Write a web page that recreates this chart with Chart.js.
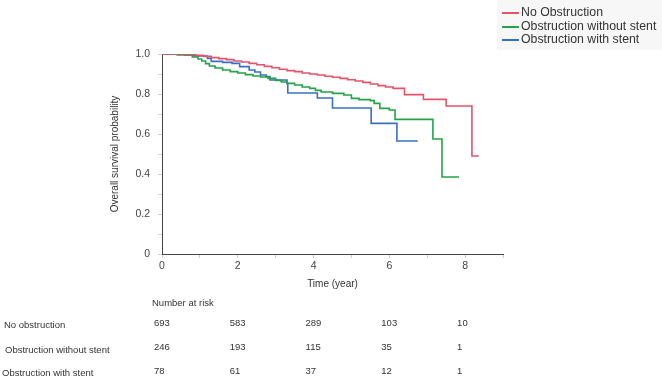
<!DOCTYPE html>
<html>
<head>
<meta charset="utf-8">
<script src="https://cdn.jsdelivr.net/npm/chart.js@4/dist/chart.umd.min.js"></script>
<style>
html,body{margin:0;padding:0;background:#fff;}
#wrap{width:662px;height:383px;position:relative;}
</style>
</head>
<body>
<div id="wrap"><canvas id="c" width="662" height="383"></canvas></div>
<script>
// ---- data ----
const seriesNames = ["No Obstruction", "Obstruction without stent", "Obstruction with stent"];
const seriesColors = ["#e5546a", "#24a448", "#3b6fc2"];

const noObsTime = [0, 0.6, 0.9, 1.1, 1.3, 1.5, 1.7, 1.9, 2.1, 2.3, 2.5, 2.7, 2.9, 3.1, 3.3, 3.5, 3.7, 3.9, 4.1, 4.3, 4.5, 4.7, 4.9, 5.1, 5.3, 5.5, 5.7, 5.9, 6.1, 6.4, 6.9, 7.5, 8.18, 8.36];
const noObsSurv = [1.0, 0.998, 0.993, 0.988, 0.982, 0.977, 0.972, 0.965, 0.96, 0.953, 0.946, 0.938, 0.931, 0.924, 0.917, 0.912, 0.905, 0.9, 0.895, 0.889, 0.884, 0.878, 0.871, 0.865, 0.858, 0.85, 0.842, 0.835, 0.828, 0.797, 0.773, 0.74, 0.49, 0.49];

const obsNoStentTime = [0, 0.4, 0.8, 0.95, 1.05, 1.15, 1.25, 1.4, 1.6, 1.8, 2.0, 2.2, 2.4, 2.6, 2.8, 3.0, 3.15, 3.3, 3.5, 3.7, 3.9, 4.05, 4.2, 4.5, 4.8, 5.0, 5.2, 5.5, 5.6, 5.75, 6.0, 6.15, 7.15, 7.39, 7.84];
const obsNoStentSurv = [1.0, 0.995, 0.985, 0.975, 0.965, 0.952, 0.94, 0.93, 0.92, 0.912, 0.905, 0.897, 0.89, 0.885, 0.878, 0.868, 0.86, 0.853, 0.845, 0.835, 0.828, 0.818, 0.81, 0.803, 0.795, 0.778, 0.772, 0.767, 0.753, 0.728, 0.72, 0.673, 0.575, 0.385, 0.385];

const obsStentTime = [0, 0.6, 0.85, 1.2, 1.3, 1.6, 1.85, 2.05, 2.3, 2.45, 2.6, 2.75, 2.85, 3.3, 3.32, 4.1, 4.5, 5.52, 6.2, 6.75];
const obsStentSurv = [1.0, 0.995, 0.99, 0.978, 0.963, 0.958, 0.953, 0.937, 0.92, 0.91, 0.895, 0.887, 0.87, 0.853, 0.805, 0.78, 0.73, 0.653, 0.565, 0.565];

const yTickLabels = ["0", "0.2", "0.4", "0.6", "0.8", "1.0"];
const xTickLabels = ["0", "2", "4", "6", "8"];

const riskTimes = [0, 2, 4, 6, 8];
const riskRowLabels = ["No obstruction", "Obstruction without stent", "Obstruction with stent"];
const riskNoObs = [693, 583, 289, 103, 10];
const riskObsNoStent = [246, 193, 115, 35, 1];
const riskObsStent = [78, 61, 37, 12, 1];

// ---- build ----
function pts(t, s){ return t.map((v,i)=>({x:v, y:s[i]})); }
const FONT = 'Arial, "Liberation Sans", sans-serif';
Chart.defaults.font.family = FONT;

const extras = {
  id: 'extras',
  afterDraw(chart){
    const ctx = chart.ctx;
    const xs = chart.scales.x;
    ctx.save();
    // legend
    ctx.fillStyle = '#f7f7f7';
    ctx.fillRect(497, 0, 165, 50);
    ctx.font = '12.3px ' + FONT;
    ctx.textBaseline = 'middle';
    ctx.textAlign = 'left';
    const rows = [13, 27, 40];
    seriesNames.forEach((n,i)=>{
      ctx.strokeStyle = seriesColors[i];
      ctx.lineWidth = 2;
      ctx.beginPath(); ctx.moveTo(502, rows[i]); ctx.lineTo(519, rows[i]); ctx.stroke();
      ctx.fillStyle = '#333';
      ctx.fillText(n, 521, rows[i]);
    });
    // number at risk table
    ctx.font = '9.5px ' + FONT;
    ctx.fillStyle = '#333';
    ctx.fillText('Number at risk', 152, 303);
    const labelX = [4, 5, 2];
    const labelY = [325, 350, 373];
    const valY = [323, 347, 371];
    const vals = [riskNoObs, riskObsNoStent, riskObsStent];
    riskRowLabels.forEach((l,i)=>{
      ctx.fillText(l, labelX[i], labelY[i]);
      riskTimes.forEach((t,j)=>{
        ctx.fillText(String(vals[i][j]), xs.getPixelForValue(t) - 8, valY[i]);
      });
    });
    ctx.restore();
  }
};

new Chart(document.getElementById('c'), {
  type: 'line',
  data: {
    datasets: [
      {label: seriesNames[0], data: pts(noObsTime, noObsSurv), borderColor: seriesColors[0]},
      {label: seriesNames[1], data: pts(obsNoStentTime, obsNoStentSurv), borderColor: seriesColors[1]},
      {label: seriesNames[2], data: pts(obsStentTime, obsStentSurv), borderColor: seriesColors[2]}
    ].map(d => Object.assign(d, {stepped: 'before', pointRadius: 0, borderWidth: 1.6, fill: false, tension: 0}))
  },
  options: {
    responsive: false,
    animation: false,
    layout: {padding: {left: 105, right: 159, top: 54, bottom: 89}},
    plugins: {legend: {display: false}, tooltip: {enabled: false}},
    scales: {
      x: {
        type: 'linear', min: 0, max: 9,
        afterFit: s => { s.height = 40; },
        border: {display: true, color: '#444', width: 1},
        grid: {display: true, drawOnChartArea: false, drawTicks: true, tickLength: 4, color: '#d0d0d0'},
        ticks: {stepSize: 1, autoSkip: false, maxRotation: 0, padding: 2, color: '#444', font: {size: 10.5},
          callback: (v) => { const k = xTickLabels.indexOf(String(v)); return k >= 0 ? xTickLabels[k] : ''; }},
        title: {display: true, text: 'Time (year)', color: '#333', font: {size: 10}, padding: {top: 4, bottom: 4}}
      },
      y: {
        type: 'linear', min: 0, max: 1,
        afterFit: s => { s.width = 57; },
        border: {display: true, color: '#444', width: 1},
        grid: {display: true, drawOnChartArea: false, drawTicks: true, tickLength: 4, color: '#d0d0d0'},
        ticks: {stepSize: 0.1, autoSkip: false, padding: 8, color: '#444', font: {size: 10.5},
          callback: (v, i) => (i % 2 === 0) ? yTickLabels[i / 2] : ''},
        title: {display: true, text: 'Overall survival probability', color: '#333', font: {size: 10}, padding: {top: 4, bottom: 4}}
      }
    }
  },
  plugins: [extras]
});
</script>
</body>
</html>
